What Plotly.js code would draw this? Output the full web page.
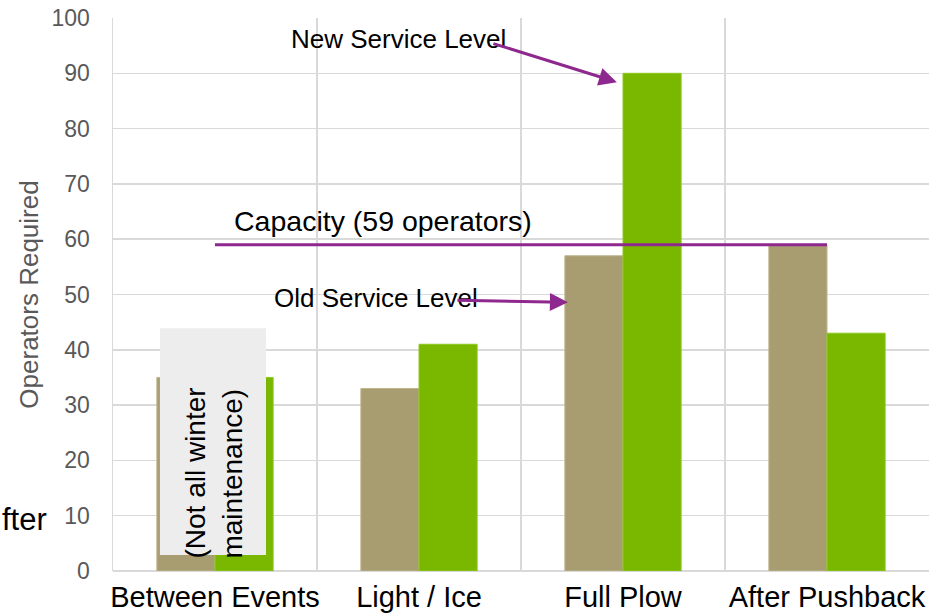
<!DOCTYPE html>
<html><head><meta charset="utf-8">
<script src="https://cdn.plot.ly/plotly-3.0.1.min.js"></script>
<style>html,body{margin:0;padding:0;background:#fff}#chart{width:952px;height:614px}</style>
</head><body><div id="chart"></div>
<script>
const categories = ["Between Events", "Light / Ice", "Full Plow", "After Pushback"];
const oldService = [35, 33, 57, 59];
const newService = [35, 41, 90, 43];
const capacity = 59;
const yTicks = [0,10,20,30,40,50,60,70,80,90,100];

const TAN = "#A79D70", GREEN = "#7AB800", PURPLE = "#8E288E";
const FONT = "Liberation Sans, Arial, sans-serif";

const traces = [
  {type:"bar", name:"Old Service Level", x:categories, y:oldService,
   marker:{color:TAN, line:{color:"#BDB48C", width:1}}},
  {type:"bar", name:"New Service Level", x:categories, y:newService,
   marker:{color:GREEN, line:{color:"#8CC820", width:1}}},
  {type:"scatter", mode:"lines", name:"Capacity",
   x:[categories[0], categories[categories.length-1]], y:[capacity, capacity],
   line:{color:PURPLE, width:3}}
];

const layout = {
  width:952, height:614,
  margin:{l:113, r:23, t:18, b:43},
  paper_bgcolor:"#fff", plot_bgcolor:"#fff",
  showlegend:false,
  barmode:"group", bargap:0.43, bargroupgap:0,
  font:{family:FONT},
  xaxis:{type:"category", range:[-0.5,3.5], tickson:"boundaries",
    showgrid:true, gridcolor:"#d9d9d9", gridwidth:1.5,
    showline:false, zeroline:false, ticks:"", tickangle:0, automargin:false,
    tickfont:{size:29, color:"#000"}, ticklabelstandoff:6},
  yaxis:{range:[0,100], tickvals:yTicks, ticktext:yTicks.map(String),
    showgrid:true, gridcolor:"#d9d9d9", gridwidth:1.5,
    zeroline:true, zerolinecolor:"#d9d9d9", zerolinewidth:1.5,
    showline:true, linecolor:"#d9d9d9", linewidth:1.5,
    ticks:"", ticklabelstandoff:17,
    tickfont:{size:23, color:"#595959"},
    title:{text:"Operators Required", font:{size:26, color:"#595959"}, standoff:5}},
  shapes:[
    {type:"rect", xref:"x", yref:"y", x0:-0.27, x1:0.25, y0:2.9, y1:43.9,
     fillcolor:"#EDEDED", line:{width:0}, layer:"above"}
  ],
  annotations:[
    {xref:"x", yref:"y", x:-0.005, y:17.8, text:"(Not all winter<br>maintenance)",
     textangle:-90, showarrow:false, align:"left",
     font:{size:28, color:"#000", family:FONT}},
    {xref:"x", yref:"y", x:0.083, y:63.3, xanchor:"left", text:"Capacity (59 operators)",
     showarrow:false, font:{size:28.5, color:"#000", family:FONT}},
    {xref:"x", yref:"y", x:0.90, y:96.2, text:"New Service Level",
     showarrow:false, font:{size:26, color:"#000", family:FONT}},
    {xref:"x", yref:"y", x:0.79, y:49.4, text:"Old Service Level",
     showarrow:false, font:{size:26, color:"#000", family:FONT}},
    {xref:"x", yref:"y", x:1.97, y:88.4, text:"", showarrow:true,
     ax:-125, ay:-39, axref:"pixel", ayref:"pixel",
     arrowhead:2, arrowsize:1.2, arrowwidth:3, arrowcolor:PURPLE},
    {xref:"x", yref:"y", x:1.73, y:48.6, text:"", showarrow:true,
     ax:-112, ay:-2, arrowhead:2, arrowsize:1.2, arrowwidth:3, arrowcolor:PURPLE},
    {xref:"paper", yref:"paper", x:-0.139, xanchor:"left", y:0.058, text:"fter",
     showarrow:false, font:{size:31, color:"#000", family:FONT}}
  ]
};

Plotly.newPlot("chart", traces, layout, {displayModeBar:false, staticPlot:true});
</script></body></html>
